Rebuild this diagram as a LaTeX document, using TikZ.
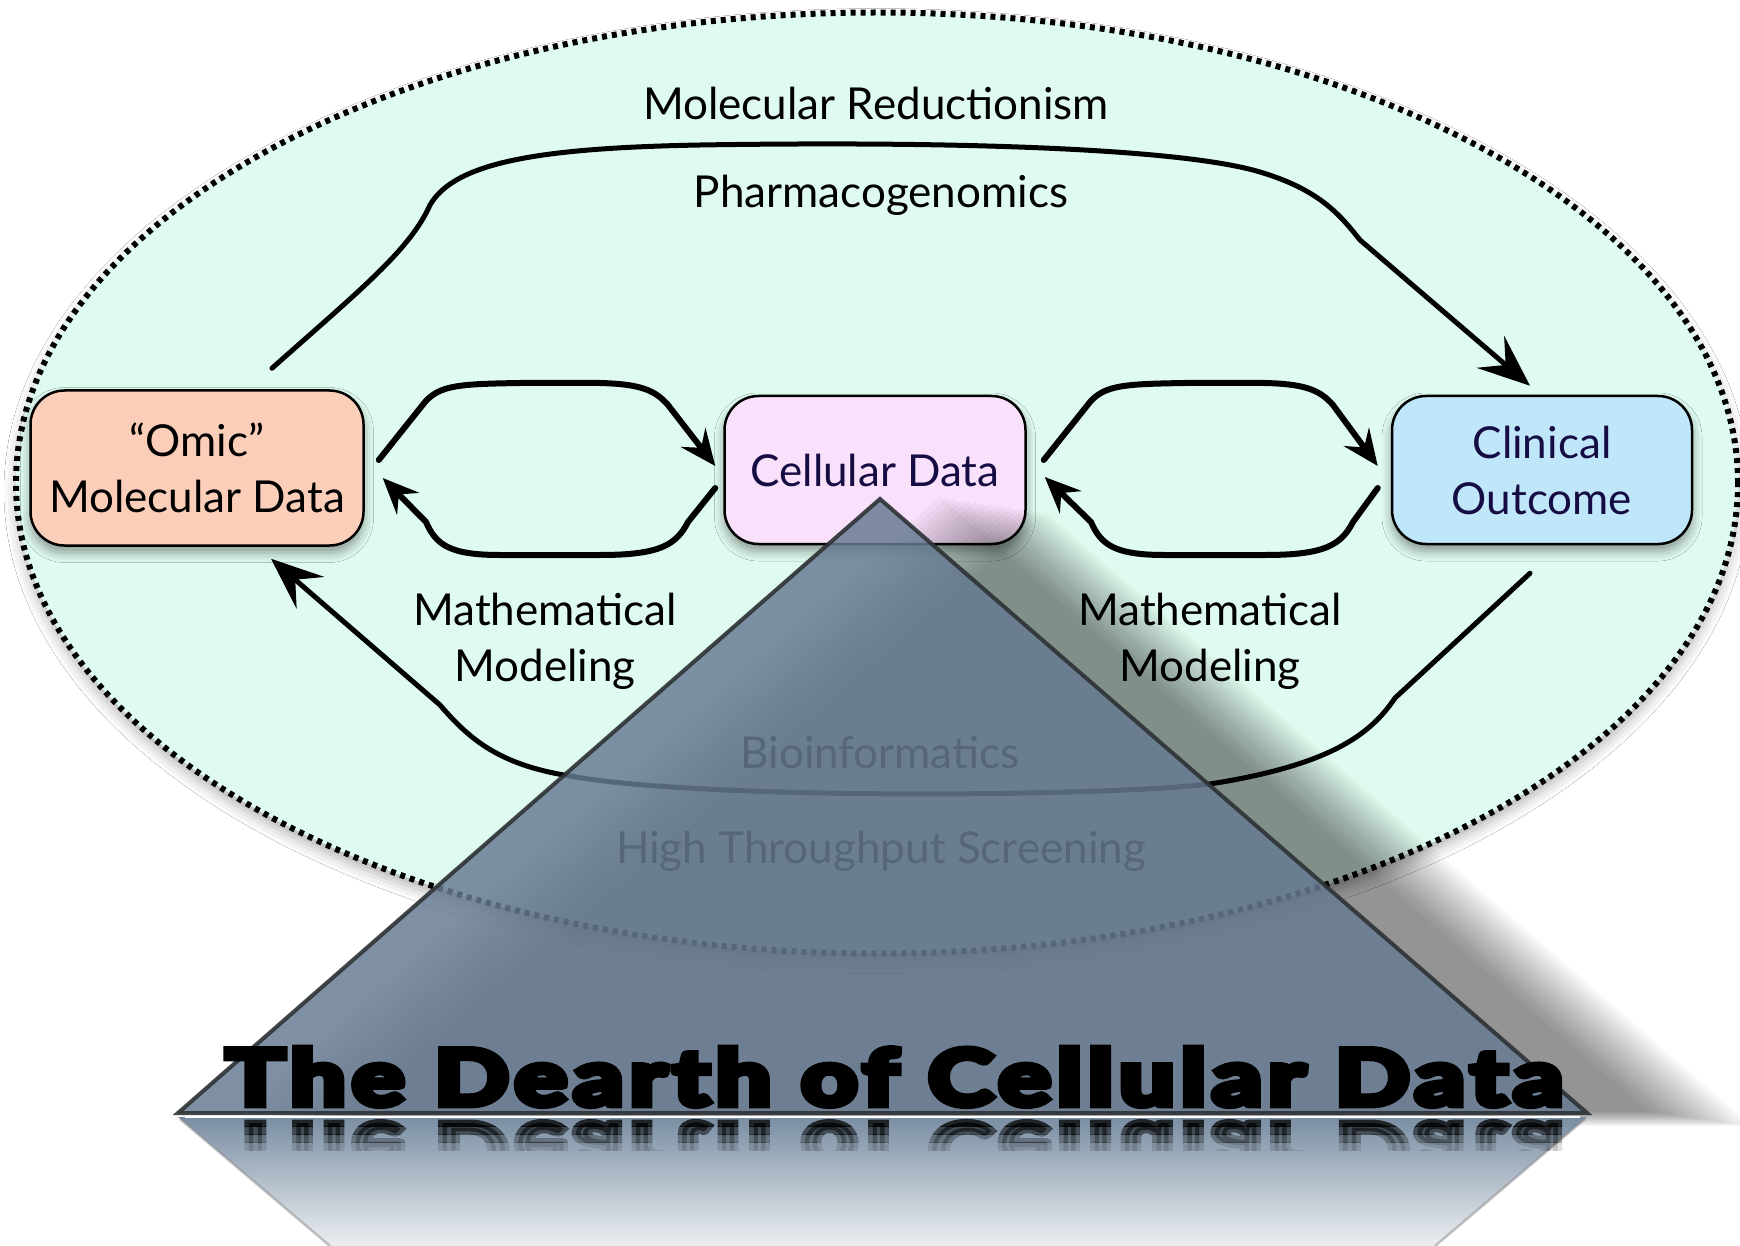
\documentclass[tikz,border=0pt]{standalone}
\usepackage{fontspec}
\setmainfont{Lato}
\newfontfamily\titlefont{Lato}[FakeBold=9, LetterSpace=7]
\usetikzlibrary{arrows.meta,shadows.blur,shapes.geometric}
\definecolor{mint}{RGB}{223,250,238}
\definecolor{peach}{RGB}{251,206,186}
\definecolor{pinkbox}{RGB}{249,225,251}
\definecolor{bluebox}{RGB}{192,230,250}
\definecolor{navy}{RGB}{22,12,68}
\definecolor{steel}{RGB}{103,123,147}
\definecolor{edgegray}{RGB}{45,50,52}
\definecolor{refltop}{RGB}{122,142,163}
\definecolor{reflbot}{RGB}{236,239,242}
\begin{document}
\begin{tikzpicture}[x=1pt,y=-1pt,
  box/.style={draw=black, line width=2.5pt, rounded corners=34pt, align=center,
    font=\fontsize{44}{56}\selectfont, inner sep=0pt,
    blur shadow={shadow xshift=0pt, shadow yshift=-7pt, shadow blur radius=10pt, shadow opacity=40}},
  lbl/.style={font=\fontsize{44}{56}\selectfont, align=center, inner sep=0pt},
  conn/.style={line width=5pt, line cap=round, -{Stealth[length=52pt,width=42pt,inset=20pt]}},
  loopc/.style={line width=6pt, line cap=round, -{Stealth[length=36pt,width=31pt,inset=13pt]}},
  tri/.style={steel, opacity=0.84}
]
\useasboundingbox (0,0) rectangle (1740,1246);
\fill[white] (0,0) rectangle (1740,1246);

% the big ellipse
\node[ellipse, minimum width=1722pt, minimum height=941pt, fill=mint, inner sep=0pt,
  blur shadow={shadow xshift=0pt, shadow yshift=-8pt, shadow blur radius=12pt, shadow opacity=30}]
  (zone) at (877,483) {};
\draw[black, line width=6pt, dash pattern=on 5pt off 5pt]
  (zone.center) ellipse [x radius=861pt, y radius=470.5pt];

% boxes
\node[box, fill=peach, minimum width=333pt, minimum height=155pt] (omic) at (197,468) {“Omic”\\Molecular Data};
\node[box, fill=pinkbox, text=navy, minimum width=301pt, minimum height=148pt] (cell) at (875,470) {Cellular Data};
\node[box, fill=bluebox, text=navy, minimum width=300pt, minimum height=148pt] (clin) at (1542,470) {Clinical\\Outcome};

% labels
\node[lbl, anchor=base] (mr) at (876,120) {Molecular Reductionism};
\node[lbl, anchor=base] (pg) at (881,208) {Pharmacogenomics};
\node[lbl] (mm1) at (545,641) {Mathematical\\Modeling};
\node[lbl] (mm2) at (1210,641) {Mathematical\\Modeling};
\node[lbl, anchor=base] (bio) at (880,768) {Bioinformatics};
\node[lbl, anchor=base] (hts) at (881,863) {High Throughput Screening};

% big connectors
\draw[conn] ([xshift=75pt,yshift=21pt]omic.north)
  .. controls (360,290) and (410,250) .. (430,205)
  .. controls (455,162) and (540,148) .. (700,145)
  .. controls (950,141) and (1180,148) .. (1260,172)
  .. controls (1320,190) and (1340,215) .. (1360,240)
  -- ([xshift=-12pt,yshift=9pt]clin.north);
\draw[conn] ([xshift=-12pt,yshift=-28pt]clin.south)
  -- (1395,698)
  .. controls (1370,735) and (1330,765) .. (1210,784)
  .. controls (1100,797) and (700,800) .. (570,776)
  .. controls (500,765) and (470,740) .. (440,705)
  -- ([xshift=74pt,yshift=-12pt]omic.south);

% left loops
\draw[loopc] ([xshift=14pt,yshift=8pt]omic.east)
  -- (425,402) .. controls (440,385) and (460,384) .. (520,383)
  -- (600,383) .. controls (640,384) and (655,390) .. (668,405)
  -- ([xshift=-8pt,yshift=4pt]cell.west);
\draw[loopc] ([xshift=-8pt,yshift=-18pt]cell.west)
  -- (688,522) .. controls (676,545) and (660,555) .. (600,555)
  -- (500,555) .. controls (450,555) and (436,545) .. (426,522)
  -- ([xshift=18pt,yshift=-10pt]omic.east);
% right loops
\draw[loopc] ([xshift=17pt,yshift=10pt]cell.east)
  -- (1090,402) .. controls (1105,385) and (1125,384) .. (1185,383)
  -- (1265,383) .. controls (1305,384) and (1320,390) .. (1333,405)
  -- ([xshift=-13pt,yshift=4pt]clin.west);
\draw[loopc] ([xshift=-13pt,yshift=-18pt]clin.west)
  -- (1353,522) .. controls (1341,545) and (1325,555) .. (1265,555)
  -- (1165,555) .. controls (1115,555) and (1101,545) .. (1091,522)
  -- ([xshift=18pt,yshift=-7pt]cell.east);

% pyramid corners
\coordinate (apex) at (880,499);
\coordinate (bl) at (178,1113);
\coordinate (br) at (1587,1113);

% soft shadow of the pyramid (layered copies shifted right)
\foreach \i in {0,...,15} {
  \pgfmathsetmacro\dx{60+7*\i}
  \pgfmathsetmacro\dy{2-1.0*\i}
  \fill[black, opacity=0.033]
    ([xshift=\dx pt, yshift=\dy pt]apex) --
    ([xshift=\dx pt, yshift=\dy pt]br) --
    ([xshift=\dx pt, yshift=\dy pt]bl) -- cycle;
}

% pyramid
\fill[tri] (apex) -- (br) -- (bl) -- cycle;
\draw[edgegray, line width=4pt, opacity=0.9, line join=miter] (apex) -- (br) -- (bl) -- cycle;

% reflection
\shade[top color=refltop, bottom color=reflbot] (178,1117) -- (1587,1117) -- (1435,1246) -- (330,1246) -- cycle;
\draw[white, line width=2.5pt] (185,1117) -- (1580,1117);
\draw[gray, line width=2.5pt, opacity=0.45] (180,1119) -- (330,1246);
\draw[gray, line width=2.5pt, opacity=0.45] (1585,1119) -- (1435,1246);
\foreach \ya/\yb/\op [count=\k] in {1118/1126/0.75, 1126/1134/0.5, 1134/1142/0.28, 1142/1150/0.12} {
  \begin{scope}
    \clip (150,\ya) rectangle (1650,\yb);
    \node[anchor=base west, inner sep=0pt, text opacity=\op] (mirror\k) at (226,1123)
      {\scalebox{1}[-1]{\resizebox{1336pt}{57pt}{\titlefont\bfseries The Dearth of Cellular Data}}};
  \end{scope}
}

% title
\node[anchor=base west, inner sep=0pt] (title) at (226,1105)
  {\resizebox{1336pt}{57pt}{\titlefont\bfseries The Dearth of Cellular Data}};
\end{tikzpicture}
\end{document}
